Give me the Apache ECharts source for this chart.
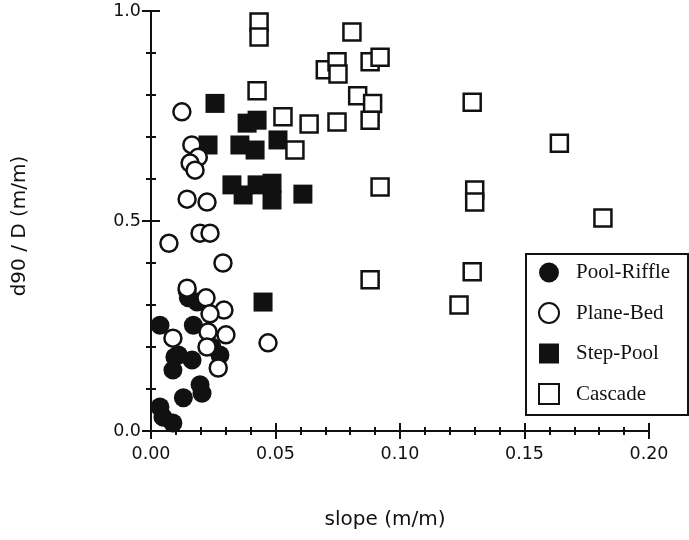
<!DOCTYPE html>
<html><head><meta charset="utf-8">
<script src="https://cdn.jsdelivr.net/npm/echarts@6/dist/echarts.min.js"></script>
<style>html,body{margin:0;padding:0;background:#fff}#c{width:689px;height:540px}</style>
</head><body><div id="c"></div>
<script>
var xTicks = [0, 0.05, 0.10, 0.15, 0.20];
var yTicks = [0, 0.5, 1.0];
var seriesNames = ['Pool-Riffle', 'Plane-Bed', 'Step-Pool', 'Cascade'];
var poolRiffle = [
  [0.0036,0.252],[0.017,0.252],[0.011,0.181],[0.0165,0.169],[0.0088,0.145],
  [0.0277,0.181],[0.0197,0.11],[0.0205,0.09],[0.013,0.079],[0.0036,0.057],
  [0.0048,0.033],[0.0088,0.019],[0.0145,0.334],[0.015,0.317],[0.0185,0.307],
  [0.0096,0.176],[0.0245,0.2]
];
var planeBed = [
  [0.0124,0.76],[0.0164,0.681],[0.019,0.652],[0.0157,0.638],[0.0177,0.621],
  [0.0145,0.552],[0.0225,0.545],[0.0072,0.447],[0.0197,0.471],[0.0237,0.471],
  [0.0289,0.40],[0.0145,0.34],[0.0221,0.317],[0.0293,0.288],[0.0237,0.279],
  [0.0229,0.236],[0.0301,0.229],[0.0088,0.221],[0.0225,0.20],[0.027,0.15],
  [0.047,0.21]
];
var stepPool = [
  [0.0257,0.78],[0.0229,0.681],[0.0357,0.681],[0.0386,0.733],[0.0426,0.74],
  [0.0418,0.669],[0.051,0.693],[0.0325,0.586],[0.037,0.562],[0.0426,0.586],
  [0.0486,0.59],[0.0486,0.55],[0.061,0.564],[0.045,0.307]
];
var cascade = [
  [0.0434,0.974],[0.0434,0.938],[0.0807,0.95],[0.070,0.86],[0.0747,0.879],
  [0.0751,0.85],[0.088,0.879],[0.092,0.89],[0.083,0.798],[0.089,0.78],
  [0.088,0.74],[0.0426,0.81],[0.053,0.748],[0.0635,0.731],[0.0747,0.736],
  [0.0578,0.669],[0.092,0.581],[0.129,0.783],[0.164,0.685],[0.130,0.574],
  [0.130,0.545],[0.1815,0.507],[0.129,0.379],[0.1237,0.30],[0.088,0.36]
];

var chart = echarts.init(document.getElementById('c'), null, {renderer:'canvas'});
var axisLine = {show:true, lineStyle:{color:'#111', width:2}};
function xAx(pos, labels){
  return {type:'value', position:pos, min:0, max:0.2, interval:0.05,
    axisLine:axisLine, splitLine:{show:false},
    axisTick:{show:true, inside:true, length:8, lineStyle:{color:'#111', width:2}},
    minorTick:{show:true, splitNumber:5, length:4, lineStyle:{color:'#111', width:2}},
    axisLabel:{show:labels, margin:14, fontFamily:'DejaVu Sans', fontSize:17.5, color:'#111',
      formatter:function(v){return v.toFixed(2);}}};
}
function yAx(pos, labels){
  return {type:'value', position:pos, min:0, max:1, interval:0.5,
    axisLine:axisLine, splitLine:{show:false},
    axisTick:{show:true, inside:true, length:9, lineStyle:{color:'#111', width:2}},
    minorTick:{show:true, splitNumber:5, length:5, lineStyle:{color:'#111', width:2}},
    axisLabel:{show:labels, margin:10, fontFamily:'DejaVu Sans', fontSize:17.5, color:'#111',
      formatter:function(v){return v.toFixed(1);}}};
}
var filled = {color:'#111', opacity:1};
var open = {color:'#fff', borderColor:'#111', borderWidth:2.5, opacity:1};
chart.setOption({
  animation:false,
  backgroundColor:'#fff',
  grid:{left:151, right:40, top:11, bottom:109},
  xAxis:[xAx('bottom', true), xAx('top', false)],
  yAxis:[yAx('left', true), yAx('right', false)],
  legend:{orient:'vertical', left:538, top:262, padding:0, itemWidth:20, itemHeight:20, itemGap:19,
    z:20, data:seriesNames,
    textStyle:{fontFamily:'Liberation Serif', fontSize:21, color:'#111', padding:[0,0,0,12]}},
  graphic:[
    {type:'rect', shape:{x:526, y:254, width:162, height:161},
      style:{fill:'#fff', stroke:'#111', lineWidth:2}, z:10},
    {type:'text', x:385, y:520, style:{text:'slope (m/m)', align:'center', verticalAlign:'middle',
      font:'20px "DejaVu Sans"', fill:'#111'}},
    {type:'text', rotation:Math.PI/2, x:20, y:226, style:{text:'d90 / D (m/m)', align:'center', verticalAlign:'middle',
      font:'20px "DejaVu Sans"', fill:'#111'}}
  ],
  series:[
    {name:'Pool-Riffle', type:'scatter', symbol:'circle', symbolSize:19, data:poolRiffle, itemStyle:filled, z:2},
    {name:'Step-Pool', type:'scatter', symbol:'rect', symbolSize:19, data:stepPool, itemStyle:filled, z:2},
    {name:'Plane-Bed', type:'scatter', symbol:'circle', symbolSize:17, data:planeBed, itemStyle:open, z:3},
    {name:'Cascade', type:'scatter', symbol:'rect', symbolSize:17, data:cascade, itemStyle:open, z:3}
  ]
});
</script></body></html>
